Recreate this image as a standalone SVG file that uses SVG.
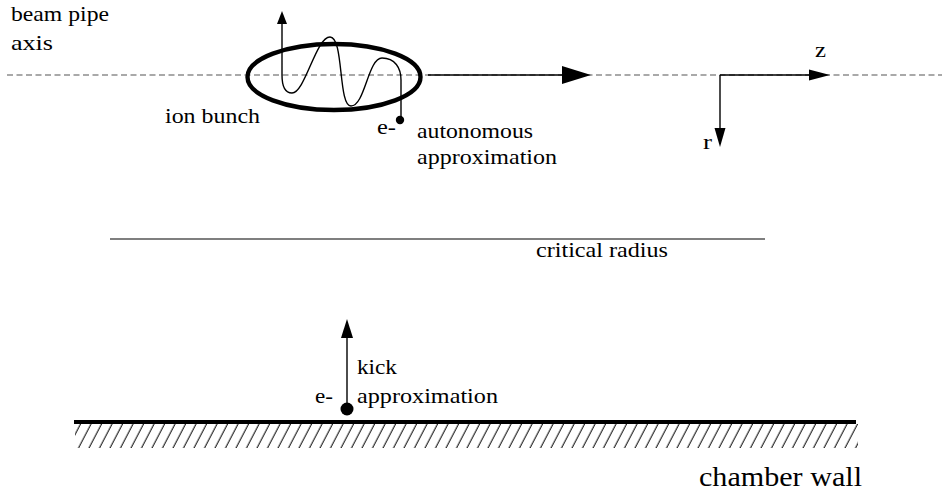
<svg xmlns="http://www.w3.org/2000/svg" width="942" height="495" viewBox="0 0 942 495">
<style>
.ln{stroke:#000;fill:none;stroke-width:1.4}
.ah{fill:#000;stroke:none}
</style>
<defs>
<pattern id="hatch" width="10.5" height="23" patternUnits="userSpaceOnUse" patternTransform="translate(75,425) skewX(-27.5)">
<line x1="5" y1="0" x2="5" y2="23" stroke="#000" stroke-width="1.1"/>
</pattern>
</defs>
<rect width="942" height="495" fill="#fff"/>
<g font-family="Liberation Serif, Times New Roman, serif" font-size="22" fill="#000">
<g id="axis">
<line x1="7" y1="75" x2="942" y2="75" stroke="#555" stroke-width="1.2" stroke-dasharray="6,3.5"/>
<text x="11" y="21" textLength="98" lengthAdjust="spacingAndGlyphs">beam pipe</text>
<text x="11" y="50" textLength="42" lengthAdjust="spacingAndGlyphs">axis</text>
</g>
<g id="ion-bunch">
<ellipse cx="334" cy="77" rx="86.5" ry="33" fill="none" stroke="#000" stroke-width="4.4"/>
<text x="165" y="123" textLength="95" lengthAdjust="spacingAndGlyphs">ion bunch</text>
</g>
<g id="electron-autonomous">
<circle cx="400" cy="120" r="4.2" fill="#000"/>
<text x="377" y="134" textLength="19" lengthAdjust="spacingAndGlyphs">e-</text>
<text x="417" y="138" textLength="116" lengthAdjust="spacingAndGlyphs">autonomous</text>
<text x="417" y="164" textLength="140" lengthAdjust="spacingAndGlyphs">approximation</text>
</g>
<g id="coords">
<text x="815" y="57" textLength="11" lengthAdjust="spacingAndGlyphs">z</text>
<text x="703" y="149" textLength="9" lengthAdjust="spacingAndGlyphs">r</text>
</g>
<g id="critical-radius">
<line x1="110" y1="239" x2="765" y2="239" stroke="#000" stroke-width="1.2"/>
<text x="536" y="257" textLength="132" lengthAdjust="spacingAndGlyphs">critical radius</text>
</g>
<g id="electron-kick">
<circle cx="347" cy="409" r="6.5" fill="#000"/>
<text x="315" y="403" textLength="18" lengthAdjust="spacingAndGlyphs">e-</text>
<text x="357" y="374" textLength="40" lengthAdjust="spacingAndGlyphs">kick</text>
<text x="357" y="403" textLength="141" lengthAdjust="spacingAndGlyphs">approximation</text>
</g>
<g id="chamber-wall">
<rect x="75" y="424" width="783" height="24" fill="url(#hatch)"/>
<line x1="74" y1="422" x2="856" y2="422" stroke="#000" stroke-width="4"/>
<text x="699" y="486" font-size="28" textLength="163" lengthAdjust="spacingAndGlyphs">chamber wall</text>
</g>
</g>
<g id="connectors">
<path class="ln" d="M282,22 V75 C282,88 286,93 292,93 C305,93 316,37 330,37 C344,37 338,106 351,106 C365,106 368,58 382,58 C395,58 401,68 401,80 V117" stroke-width="1.9"/>
<polygon class="ah" points="282,11 277,24 287,24"/>
<line class="ln" x1="428" y1="75" x2="565" y2="75" stroke-width="1.8"/>
<polygon class="ah" points="591,75 562,66 562,84"/>
<line class="ln" x1="720" y1="75" x2="812" y2="75"/>
<polygon class="ah" points="830,75 809,69.5 809,80.5"/>
<line class="ln" x1="720" y1="75" x2="720" y2="130"/>
<polygon class="ah" points="720,147 714.5,128 725.5,128"/>
<line class="ln" x1="347" y1="336" x2="347" y2="409"/>
<polygon class="ah" points="347,319 341,338 353,338"/>
</g>
</svg>
